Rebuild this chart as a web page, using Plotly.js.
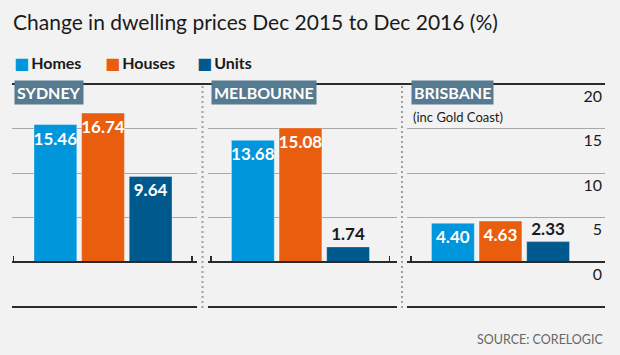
<!DOCTYPE html>
<html><head><meta charset="utf-8">
<script src="https://cdn.plot.ly/plotly-3.0.1.min.js"></script>
<style>html,body{margin:0;padding:0;background:#f2f2f2}</style>
</head><body><div id="chart" style="width:620px;height:355px"></div>
<script>
// ---- data ----
const cities = ['SYDNEY', 'MELBOURNE', 'BRISBANE'];
const citySubtitles = ['', '', '(inc Gold Coast)'];
const series = ['Homes', 'Houses', 'Units'];
const homes = [15.46, 13.68, 4.40];
const houses = [16.74, 15.08, 4.63];
const units = [9.64, 1.74, 2.33];
const yTickVals = [0, 5, 10, 15, 20];
const yTickText = ['0', '5', '10', '15', '20'];
const titleText = 'Change in dwelling prices Dec 2015 to Dec 2016 (%)';
const sourceText = 'SOURCE: CORELOGIC';

// ---- styles ----
const FONT = 'Lato, "DejaVu Sans", sans-serif';
const colors = ['#0096db', '#e95d0f', '#00598c'];
const headerColor = '#567a8f';
const dark = '#2b2b2b';
const values = [homes, houses, units];
const domains = [[0, 0.312], [0.3305, 0.6492], [0.6661, 1]];
const ranges = [[-0.912, 2.975], [-0.943, 3.027], [-0.964, 3.195]];
const endTicks = [-0.88, 2.87];
const legendPx = [12, 103, 195];
const plotL = 12, plotW = 593, plotTop = 84, plotH = 223;
const py = p => (plotTop + plotH - p) / plotH;
const px = p => (p - plotL) / plotW;

const traces = cities.map((c, ci) => {
  const ys = series.map((s, si) => values[si][ci]);
  return {
    type: 'bar',
    x: series,
    y: ys,
    xaxis: ci === 0 ? 'x' : 'x' + (ci + 1),
    yaxis: 'y',
    marker: {color: colors, line: {color: 'rgba(255,255,255,0.35)', width: 1}},
    texttemplate: '%{y:.2f}',
    textposition: ys.map(v => v > 3 ? 'inside' : 'outside'),
    insidetextanchor: 'end',
    textangle: 0,
    constraintext: 'none',
    cliponaxis: false,
    insidetextfont: {family: FONT, size: 17, color: '#ffffff', weight: 700},
    outsidetextfont: {family: FONT, size: 17, color: '#1a1a1a', weight: 700},
    showlegend: false,
    hoverinfo: 'skip'
  };
});

const layout = {
  width: 620, height: 355,
  margin: {l: plotL, r: 620 - plotL - plotW, t: plotTop, b: 355 - plotTop - plotH, pad: 0},
  paper_bgcolor: '#f2f2f2', plot_bgcolor: '#f2f2f2',
  font: {family: FONT, color: dark},
  bargap: 0.1,
  showlegend: false,
  title: {
    text: titleText, xref: 'container', yref: 'container',
    x: 13 / 620, xanchor: 'left', y: 1 - 23 / 355, yanchor: 'middle',
    font: {family: FONT, size: 21, color: '#1a1a1a'}
  },
  yaxis: {
    range: [-5, 20], domain: [0, 1], anchor: 'x3', side: 'right',
    tickmode: 'array', tickvals: yTickVals, ticktext: yTickText,
    ticklabelposition: 'inside', ticklabelshift: 12, ticks: '',
    showgrid: true, gridcolor: '#a8a8a8', gridwidth: 1,
    zeroline: false, showline: false,
    tickfont: {family: FONT, size: 16, color: '#1a1a1a'},
    fixedrange: true
  },
  shapes: [],
  annotations: []
};

cities.forEach((c, ci) => {
  const n = ci + 1;
  const key = ci === 0 ? 'xaxis' : 'xaxis' + n;
  const ref = ci === 0 ? 'x' : 'x' + n;
  // baseline axis at zero, with end ticks
  layout[key] = {
    domain: domains[ci], range: ranges[ci], type: 'category',
    anchor: 'free', position: 5 / 25,
    showline: true, linecolor: dark, linewidth: 2,
    showgrid: false, zeroline: false, showticklabels: false,
    tickmode: 'array', tickvals: endTicks, ticks: 'inside', ticklen: 5, tickwidth: 1.5, tickcolor: dark,
    fixedrange: true
  };
  // bottom rule of each panel
  layout.shapes.push({type: 'line', xref: ref + ' domain', yref: 'y domain', x0: 0, x1: 1, y0: 0, y1: 0,
    line: {color: dark, width: 2}});
  layout.annotations.push({
    xref: ref, yref: 'y', x: endTicks[0], y: 20, xanchor: 'left', yanchor: 'top', yshift: 4,
    text: '<b>' + c + '</b>', showarrow: false, bgcolor: headerColor, borderpad: 2,
    font: {family: FONT, size: 16, color: '#ffffff'}
  });
  if (citySubtitles[ci]) {
    layout.annotations.push({
      xref: ref, yref: 'y', x: endTicks[0], y: 20, xanchor: 'left', yanchor: 'top', yshift: -23,
      text: citySubtitles[ci], showarrow: false,
      font: {family: FONT, size: 13, color: '#1a1a1a'}
    });
  }
});

// separators between panels
for (let i = 0; i < domains.length - 1; i++) {
  const xm = (domains[i][1] + domains[i + 1][0]) / 2;
  layout.shapes.push({type: 'line', xref: 'paper', yref: 'paper', x0: xm, x1: xm, y0: py(86), y1: py(310),
    line: {color: '#a0a0a0', width: 2, dash: '2px,3px'}});
}
// top rule
layout.shapes.push({type: 'line', xref: 'paper', yref: 'paper', x0: 0, x1: 1, y0: 1, y1: 1,
  line: {color: dark, width: 2}});

// legend
series.forEach((s, si) => {
  layout.annotations.push({
    xref: 'paper', yref: 'paper', x: px(legendPx[si]), y: py(63), xanchor: 'left', yanchor: 'middle',
    text: '<span style="color:' + colors[si] + '">■</span>\u2009<b>' + s + '</b>', showarrow: false,
    font: {family: FONT, size: 16, color: '#1a1a1a'}
  });
});

// source
layout.annotations.push({
  xref: 'paper', yref: 'paper', x: 1, y: py(339), xanchor: 'right', yanchor: 'middle',
  text: sourceText, showarrow: false, font: {family: FONT, size: 12.5, color: '#666666'}
});

Plotly.newPlot('chart', traces, layout, {displayModeBar: false, staticPlot: true});
</script>
</body></html>
